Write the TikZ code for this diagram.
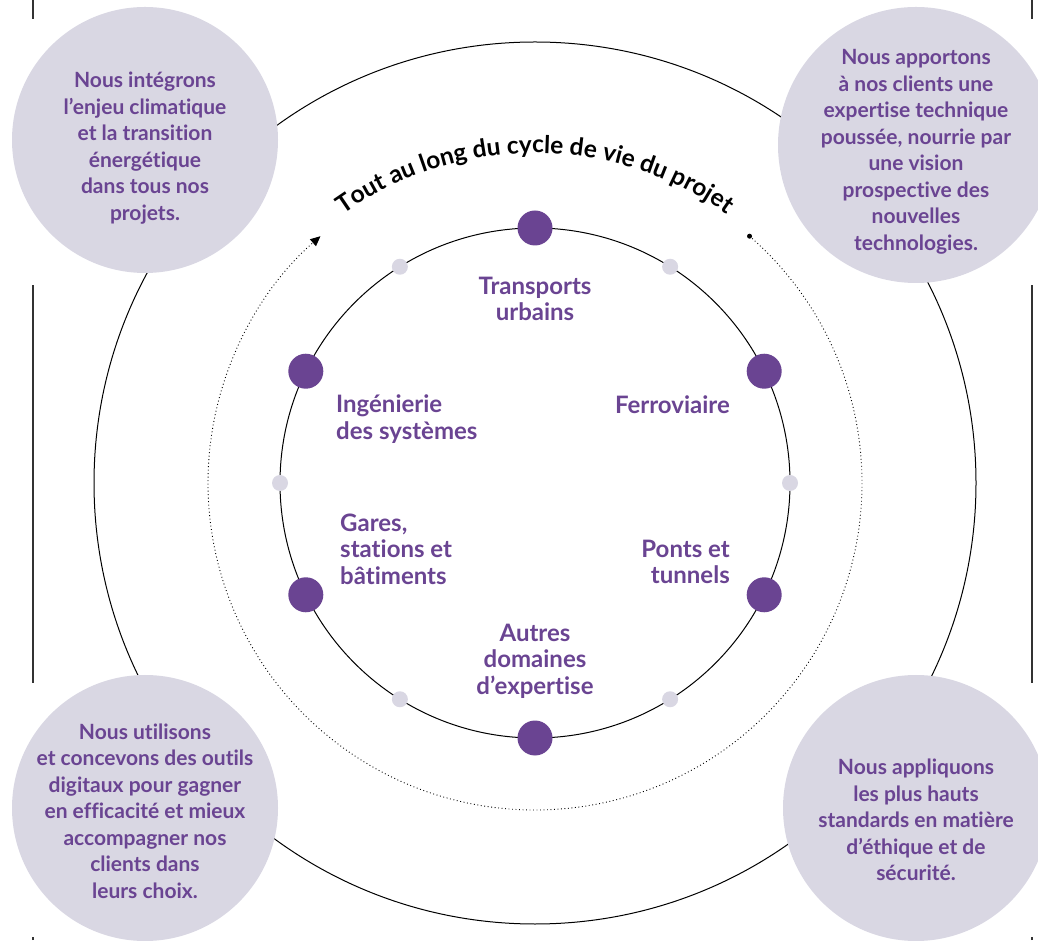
\documentclass[tikz,border=0pt]{standalone}
\usepackage{fontspec}
\setmainfont{Lato}[Ligatures=NoCommon]
\usetikzlibrary{
  arrows.meta,
  positioning,
  decorations.text
}
\definecolor{DeepPurple}{RGB}{106, 68, 146}
\definecolor{PaleLilac}{RGB}{217, 215, 227}
\definecolor{GuideGray}{RGB}{51, 51, 51}
\newcommand{\arcfont}{\fontsize{24.5}{24.5}\selectfont\bfseries}
\tikzset{
  bubble/.style={circle, fill=PaleLilac, inner sep=0pt},
  bubbletext/.style={text=DeepPurple, align=center, inner sep=0pt, font=\fontsize{21}{26.5}\selectfont\bfseries},
  domaine/.style={text=DeepPurple, inner sep=0pt, font=\fontsize{24}{26.5}\selectfont\bfseries},
  bigdot/.style={circle, fill=DeepPurple, minimum size=35pt, inner sep=0pt},
  smalldot/.style={circle, fill=PaleLilac, minimum size=16pt, inner sep=0pt},
  startdot/.style={circle, fill=black, minimum size=5pt, inner sep=0pt},
  guide/.style={draw=GuideGray, line width=1.5pt}
}

\begin{document}
\begin{tikzpicture}[x=1pt, y=1pt]
  \useasboundingbox (0,0) rectangle (1038,940);
  \coordinate (centre) at (535,457);
  \foreach \gx in {33, 1032} {
    \draw[guide] (\gx,921) -- (\gx,940);
    \draw[guide] (\gx,257) -- (\gx,655);
    \draw[guide] (\gx,0) -- (\gx,3);
  }
  \draw[line width=1pt] (centre) circle (441);
  \node[bubble, minimum size=266pt] (climat) at (145,800) {};
  \node[bubble, minimum size=276pt] (expertise) at (916,795) {};
  \node[bubble, minimum size=266pt] (digital) at (145,132) {};
  \node[bubble, minimum size=266pt] (ethique) at (916,132) {};
  \node[bubbletext] (climattxt) at (145,792) {Nous intégrons\\l’enjeu climatique\\et la transition\\énergétique\\dans tous nos\\projets.};
  \node[bubbletext] (expertisetxt) at (916,788) {Nous apportons\\à nos clients une\\expertise technique\\poussée, nourrie par\\une vision\\prospective des\\nouvelles\\technologies.};
  \node[bubbletext] (digitaltxt) at (145,129) {Nous utilisons\\et concevons des outils\\digitaux pour gagner\\en efficacité et mieux\\accompagner nos\\clients dans\\leurs choix.};
  \node[bubbletext] (ethiquetxt) at (916,120) {Nous appliquons\\les plus hauts\\standards en matière\\d’éthique et de\\sécurité.};

  \draw[line width=1pt] (centre) circle (255);
  \path (centre) ++(49:327) node[startdot] (depart) {};
  \draw[line width=0.9pt, dash pattern=on 0.9pt off 2.6pt, -{Triangle[length=10pt, width=9pt]}]
    (depart.center) arc (49:-229:327);
  \path[decorate, decoration={text along path, text align=center,
      text={|\arcfont|Tout au long du cycle de vie du projet}}]
    (centre) ++(135:330) arc (135:45:330);

  \foreach \a in {0, 58, 122, 180, 238, 302}
    \path (centre) ++(\a:255) node[smalldot] (jalon\a) {};
  \foreach \a [count=\i] in {90, 26, -26, -90, 206, 154}
    \path (centre) ++(\a:255) node[bigdot] (pole\i) {};

  \node[domaine, align=center] (transports) at (535,641) {Transports\\urbains};
  \node[domaine, align=right, anchor=east] (ferro) at (730,535) {Ferroviaire};
  \node[domaine, align=right, anchor=east] (ponts) at (730,378) {Ponts et\\tunnels};
  \node[domaine, align=center] (autres) at (535,279) {Autres\\domaines\\d’expertise};
  \node[domaine, align=left, anchor=west] (systemes) at (336,521) {Ingénierie\\des systèmes};
  \node[domaine, align=left, anchor=west] (gares) at (340,391) {Gares,\\stations et\\bâtiments};
\end{tikzpicture}
\end{document}
